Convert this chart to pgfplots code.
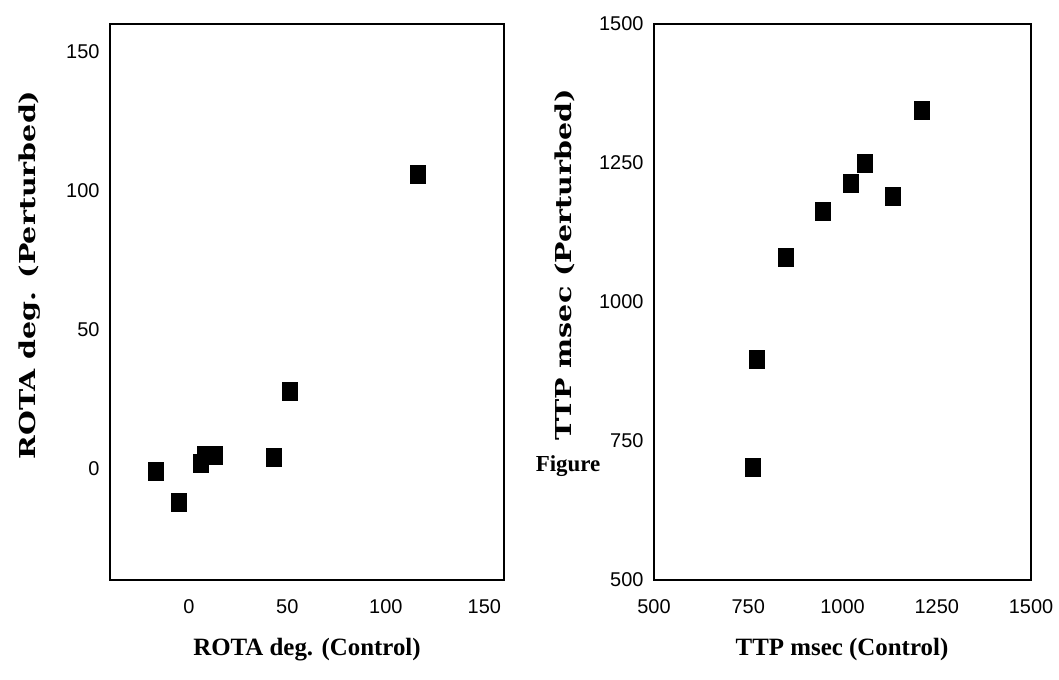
\documentclass[border=0pt]{standalone}
\usepackage{fontspec}
\setmainfont{Liberation Serif}
\newfontfamily\tickfont{Liberation Sans}
\newfontfamily\ylabfont{DejaVu Serif}
\usepackage{pgfplots}
\pgfplotsset{compat=1.18}
\pgfplotsset{myax/.style={
  scale only axis,
  axis line style={line width=1.4bp},
  tick style={draw=none},
  ticklabel style={font=\fontsize{20}{20}\selectfont\tickfont},
  /pgf/number format/assume math mode=true,
  /pgf/number format/set thousands separator={},
  xticklabel style={yshift=-16bp},
  yticklabel style={xshift=-7bp},
  clip=false,
}}
\pgfplotsset{sq/.style={only marks, mark=square*, mark size=7.5bp, color=black,
     mark options={fill=black, draw=black, yscale=1.2}}}
\begin{document}
\begin{tikzpicture}[x=1bp,y=1bp]
\path[use as bounding box] (0,0) rectangle (1059,680);
\begin{axis}[myax, at={(110bp,100bp)}, anchor=south west,
  width=394bp, height=556bp,
  xmin=-40, xmax=160, ymin=-40, ymax=160,
  xtick={0,50,100,150}, ytick={0,50,100,150}]
\addplot[sq] coordinates {(-17,-1) (-5,-12) (6,2) (8,5) (13,5) (43,4) (51,28) (116,106)};
\end{axis}
\begin{axis}[myax, at={(654bp,100bp)}, anchor=south west,
  width=377bp, height=556bp,
  xmin=500, xmax=1500, ymin=500, ymax=1500,
  xtick={500,750,1000,1250,1500}, ytick={500,750,1000,1250,1500}]
\addplot[sq] coordinates {(763,703) (773,897) (850,1081) (948,1164) (1022,1214) (1060,1250) (1134,1191) (1211,1345)};
\end{axis}
\node[font=\fontsize{25}{25}\selectfont\bfseries] at (307,30) {ROTA deg. (Control)};
\node[font=\fontsize{25}{25}\selectfont\bfseries] at (842,30) {TTP msec (Control)};
\node[font=\fontsize{22}{22}\selectfont\ylabfont\bfseries, rotate=90, xscale=1.3, transform shape] at (30,405) {ROTA deg. (Perturbed)};
\node[font=\fontsize{22}{22}\selectfont\ylabfont\bfseries, rotate=90, xscale=1.3, transform shape] at (565,415) {TTP msec (Perturbed)};
\node[font=\fontsize{23}{23}\selectfont\bfseries] at (568,214) {Figure};
\end{tikzpicture}
\end{document}
